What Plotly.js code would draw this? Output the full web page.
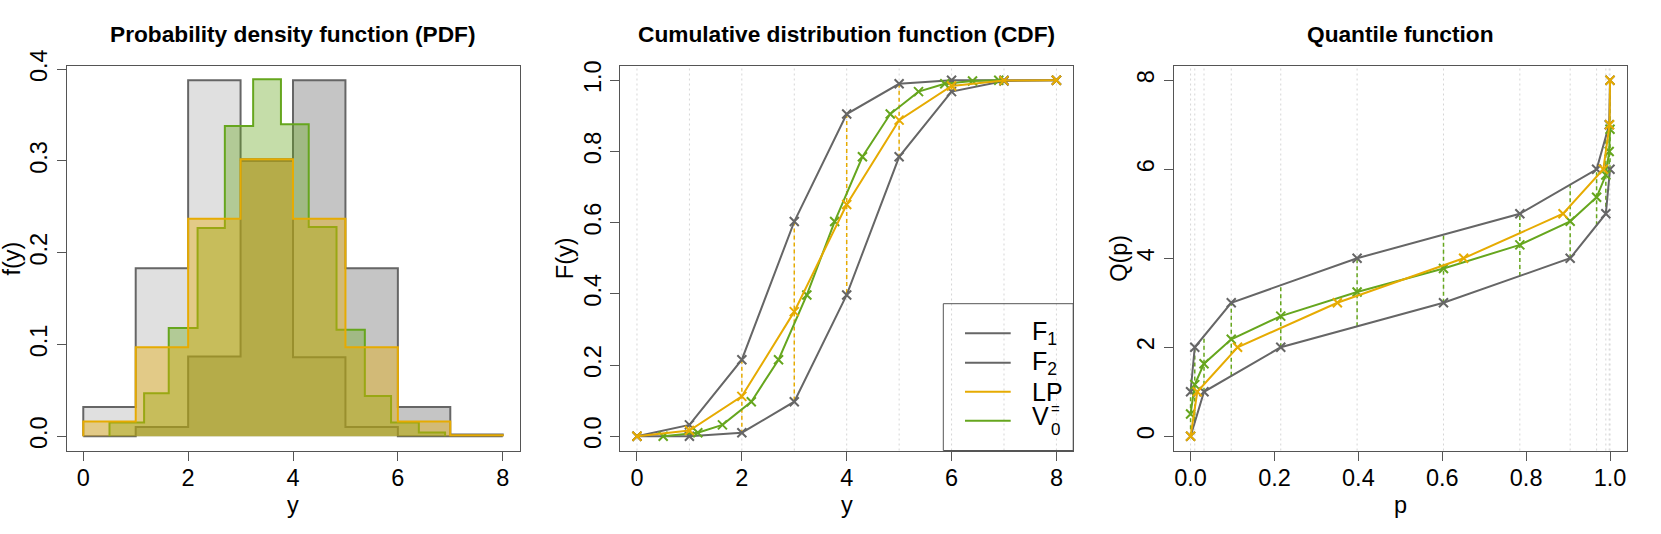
<!DOCTYPE html>
<html>
<head>
<meta charset="utf-8">
<script src="https://cdn.plot.ly/plotly-3.0.1.min.js"></script>
<style>html,body{margin:0;padding:0;background:#fff;}#chart{width:1661px;height:534px;}</style>
</head>
<body>
<div id="chart"></div>
<script>
// ---------------- data ----------------
// PDF panel (histogram-style step densities)
const pdfBinEdges = [0, 1, 2, 3, 4, 5, 6, 7, 8];
const pdfF1 = [0.032, 0.183, 0.388, 0.302, 0.086, 0.010, 0.000, 0.000];
const pdfF2 = [0.000, 0.010, 0.087, 0.300, 0.388, 0.183, 0.032, 0.002];
const pdfLP = [0.016, 0.097, 0.237, 0.302, 0.237, 0.097, 0.016, 0.001];
const pdfV0Edges = [0.50, 1.16, 1.63, 2.18, 2.70, 3.24, 3.77, 4.30, 4.83, 5.37, 5.87, 6.40, 6.90];
const pdfV0 = [0.015, 0.047, 0.118, 0.227, 0.338, 0.389, 0.340, 0.228, 0.116, 0.044, 0.015, 0.004];

// CDF panel
const yGrid = [0, 1, 2, 3, 4, 5, 6, 7, 8];
const cdfF1 = [0.000, 0.032, 0.215, 0.603, 0.905, 0.990, 1.000, 1.000, 1.000];
const cdfF2 = [0.000, 0.000, 0.010, 0.097, 0.397, 0.785, 0.968, 0.998, 1.000];
const cdfLP = [0.000, 0.016, 0.112, 0.350, 0.651, 0.888, 0.984, 0.999, 1.000];
const v0Y = [0.50, 1.16, 1.63, 2.18, 2.70, 3.24, 3.77, 4.30, 4.83, 5.37, 5.87, 6.40, 6.90];
const v0P = [0.000, 0.010, 0.032, 0.097, 0.215, 0.397, 0.603, 0.785, 0.905, 0.968, 0.990, 0.998, 1.000];

// Quantile panel
const qF1P = [0.000, 0.032, 0.215, 0.603, 0.905, 0.990, 1.000];
const qF1 = [0, 1, 2, 3, 4, 5, 6];
const qF2P = [0.000, 0.010, 0.097, 0.397, 0.785, 0.968, 0.998, 1.000];
const qF2 = [1, 2, 3, 4, 5, 6, 7, 8];
const qLowAtP = [0.00, 0.31, 1.00, 1.36, 2.00, 2.47, 3.00, 3.60, 4.00, 4.74, 5.00, 5.80, 6.00];
const qHighAtP = [1.00, 2.00, 2.25, 3.00, 3.39, 4.00, 4.53, 5.00, 5.66, 6.00, 6.73, 7.00, 8.00];

// tick labels and texts
const pdfYTicks = [0, 0.1, 0.2, 0.3, 0.4];
const pdfYTickText = ['0.0', '0.1', '0.2', '0.3', '0.4'];
const yAxisTicks = [0, 2, 4, 6, 8];
const yAxisTickText = ['0', '2', '4', '6', '8'];
const cdfYTicks = [0, 0.2, 0.4, 0.6, 0.8, 1.0];
const cdfYTickText = ['0.0', '0.2', '0.4', '0.6', '0.8', '1.0'];
const pTicks = [0, 0.2, 0.4, 0.6, 0.8, 1.0];
const pTickText = ['0.0', '0.2', '0.4', '0.6', '0.8', '1.0'];
const panelTitles = ['Probability density function (PDF)', 'Cumulative distribution function (CDF)', 'Quantile function'];
const legendLabels = ['F<sub>1</sub>', 'F<sub>2</sub>', 'LP', 'V'];

// ---------------- styling ----------------
const W = 1661, H = 534;
const GRAY = '#666666', ORANGE = '#E6AB02', GREEN = '#66A61E';
const FONT = 'Liberation Sans, Arial, Helvetica, sans-serif';
const AXC = '#555555';
const TICK_FS = 23.5, TITLE_FS = 22.7, LEG_FS = 25;
const px = v => v / W;
const py = v => 1 - v / H;
const yDom = [py(450.5), py(66)];
const xDoms = [[66.5 / W, 519.5 / W], [620.2 / W, 1073.2 / W], [1173.8 / W, 1626.8 / W]];

function stepXY(edges, heights) {
  const xs = [edges[0]], ys = [0];
  for (let i = 0; i < heights.length; i++) { xs.push(edges[i]); ys.push(heights[i]); }
  xs.push(edges[edges.length - 1]); ys.push(heights[heights.length - 1]);
  xs.push(edges[edges.length - 1]); ys.push(0);
  return {x: xs, y: ys};
}
function stepTrace(edges, heights, name, lineColor, fillColor) {
  const s = stepXY(edges, heights);
  return {x: s.x, y: s.y, type: 'scatter', mode: 'lines', name: name, xaxis: 'x', yaxis: 'y',
    line: {shape: 'hv', color: lineColor, width: 2}, fill: 'tozeroy', fillcolor: fillColor,
    hoverinfo: 'skip', showlegend: false};
}
function lineTrace(xs, ys, name, color, xa, ya) {
  return {x: xs, y: ys, type: 'scatter', mode: 'lines+markers', name: name, xaxis: xa, yaxis: ya,
    line: {color: color, width: 2},
    marker: {symbol: 'x-thin', size: 9, color: color, line: {color: color, width: 2}},
    showlegend: false};
}
function segTrace(xs, y0s, y1s, color, xa, ya) {
  const X = [], Y = [];
  for (let i = 0; i < xs.length; i++) { X.push(xs[i], xs[i], null); Y.push(y0s[i], y1s[i], null); }
  return {x: X, y: Y, type: 'scatter', mode: 'lines', xaxis: xa, yaxis: ya,
    line: {color: color, width: 1.5, dash: '4px,3px'}, hoverinfo: 'skip', showlegend: false};
}

const traces = [
  stepTrace(pdfBinEdges, pdfF1, 'F1', GRAY, 'rgba(102,102,102,0.20)'),
  stepTrace(pdfBinEdges, pdfF2, 'F2', GRAY, 'rgba(102,102,102,0.38)'),
  stepTrace(pdfV0Edges, pdfV0, 'V0', GREEN, 'rgba(102,166,30,0.38)'),
  stepTrace(pdfBinEdges, pdfLP, 'LP', ORANGE, 'rgba(230,171,2,0.40)'),

  segTrace(yGrid, cdfF1, cdfF2, ORANGE, 'x2', 'y2'),
  lineTrace(yGrid, cdfF1, 'F1', GRAY, 'x2', 'y2'),
  lineTrace(yGrid, cdfF2, 'F2', GRAY, 'x2', 'y2'),
  lineTrace(v0Y, v0P, 'V0', GREEN, 'x2', 'y2'),
  lineTrace(yGrid, cdfLP, 'LP', ORANGE, 'x2', 'y2'),

  segTrace(v0P, qLowAtP, qHighAtP, GREEN, 'x3', 'y3'),
  lineTrace(qF1P, qF1, 'F1', GRAY, 'x3', 'y3'),
  lineTrace(qF2P, qF2, 'F2', GRAY, 'x3', 'y3'),
  lineTrace(v0P, v0Y, 'V0', GREEN, 'x3', 'y3'),
  lineTrace(cdfLP, yGrid, 'LP', ORANGE, 'x3', 'y3')
];

function xAxis(dom, range, tv, tt, anchor) {
  return {domain: dom, range: range, anchor: anchor, tickvals: tv, ticktext: tt,
    showline: true, mirror: true, linecolor: AXC, linewidth: 1,
    ticks: 'outside', ticklen: 9, tickwidth: 1, tickcolor: AXC, ticklabelstandoff: -3,
    showgrid: false, zeroline: false, tickfont: {family: FONT, size: TICK_FS, color: '#000'}, fixedrange: true};
}
function yAxis(dom, range, tv, tt, anchor) {
  const a = xAxis(dom, range, tv, tt, anchor);
  a.tickangle = -90;
  a.ticklabelstandoff = 0;
  return a;
}

const shapes = [];
yGrid.forEach(v => shapes.push({type: 'line', xref: 'x2', yref: 'y2 domain', x0: v, x1: v, y0: 0, y1: 1,
  line: {color: '#d6d6d6', width: 1, dash: '2px,3px'}, layer: 'below'}));
v0P.forEach(v => shapes.push({type: 'line', xref: 'x3', yref: 'y3 domain', x0: v, x1: v, y0: 0, y1: 1,
  line: {color: '#d6d6d6', width: 1, dash: '2px,3px'}, layer: 'below'}));

// legend box (bottom-right of CDF panel)
shapes.push({type: 'rect', xref: 'paper', yref: 'paper', x0: px(943.3), x1: xDoms[1][1], y0: yDom[0], y1: py(303.7),
  line: {color: AXC, width: 1}, fillcolor: 'rgba(0,0,0,0)'});
const legendRows = [333.3, 362.7, 391.7, 420.7];
const legendColors = [GRAY, GRAY, ORANGE, GREEN];
legendRows.forEach((r, i) => shapes.push({type: 'line', xref: 'paper', yref: 'paper',
  x0: px(965), x1: px(1010.7), y0: py(r), y1: py(r), line: {color: legendColors[i], width: 2}}));

const annotations = [];
const centers = xDoms.map(d => (d[0] + d[1]) / 2);
panelTitles.forEach((t, i) => annotations.push({text: t, xref: 'paper', yref: 'paper', x: centers[i], y: py(34),
  xanchor: 'center', yanchor: 'middle', showarrow: false, font: {family: FONT, size: TITLE_FS, color: '#000', weight: 'bold'}}));
const xTitles = ['y', 'y', 'p'];
xTitles.forEach((t, i) => annotations.push({text: t, xref: 'paper', yref: 'paper', x: centers[i], y: py(505),
  xanchor: 'center', yanchor: 'middle', showarrow: false, font: {family: FONT, size: TICK_FS, color: '#000'}}));
const yTitles = ['f(y)', 'F(y)', 'Q(p)'];
yTitles.forEach((t, i) => annotations.push({text: t, xref: 'paper', yref: 'paper', x: xDoms[i][0] - px(55), y: py(258),
  xanchor: 'center', yanchor: 'middle', textangle: -90, showarrow: false, font: {family: FONT, size: TICK_FS, color: '#000'}}));
legendLabels.forEach((t, i) => annotations.push({text: t, xref: 'paper', yref: 'paper', x: px(1031), y: py(legendRows[i] + (i === 3 ? -5 : 0)),
  xanchor: 'left', yanchor: 'middle', showarrow: false, borderpad: 0, font: {family: FONT, size: LEG_FS, color: '#000'}}));
annotations.push({text: '=', xref: 'paper', yref: 'paper', x: px(1049.5), y: py(408), xanchor: 'left', yanchor: 'middle',
  showarrow: false, borderpad: 0, font: {family: FONT, size: 15, color: '#000'}});
annotations.push({text: '0', xref: 'paper', yref: 'paper', x: px(1049.5), y: py(429), xanchor: 'left', yanchor: 'middle',
  showarrow: false, borderpad: 0, font: {family: FONT, size: 17, color: '#000'}});

const layout = {
  width: W, height: H, margin: {l: 0, r: 0, t: 0, b: 0},
  paper_bgcolor: '#fff', plot_bgcolor: 'rgba(0,0,0,0)', showlegend: false,
  font: {family: FONT, color: '#000'},
  xaxis: xAxis(xDoms[0], [-0.32, 8.32], yAxisTicks, yAxisTickText, 'y'),
  yaxis: yAxis(yDom, [-0.01552, 0.40352], pdfYTicks, pdfYTickText, 'x'),
  xaxis2: xAxis(xDoms[1], [-0.32, 8.32], yAxisTicks, yAxisTickText, 'y2'),
  yaxis2: yAxis(yDom, [-0.04, 1.04], cdfYTicks, cdfYTickText, 'x2'),
  xaxis3: xAxis(xDoms[2], [-0.04, 1.04], pTicks, pTickText, 'y3'),
  yaxis3: yAxis(yDom, [-0.32, 8.32], yAxisTicks, yAxisTickText, 'x3'),
  shapes: shapes, annotations: annotations
};

Plotly.newPlot('chart', traces, layout, {staticPlot: true, displayModeBar: false});
</script>
</body>
</html>
